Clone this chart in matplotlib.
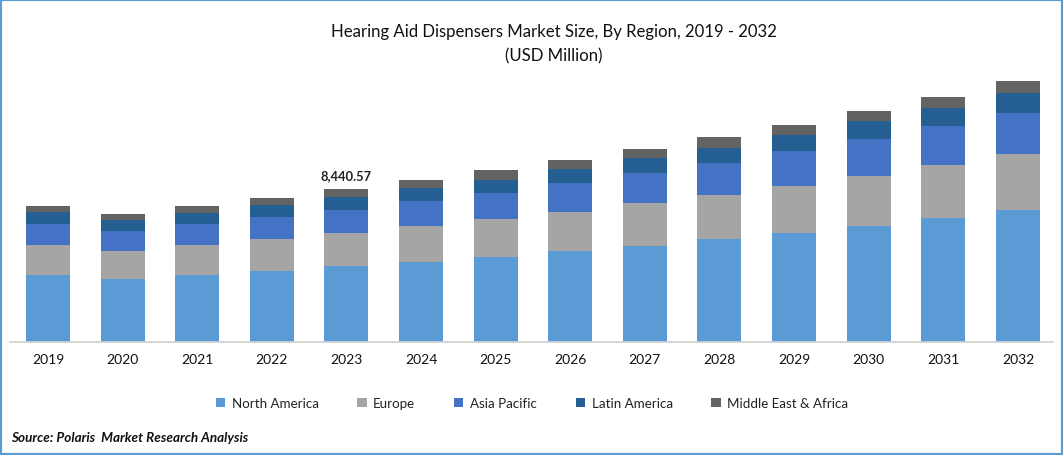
import matplotlib
matplotlib.use('Agg')
import numpy as np
import matplotlib.pyplot as plt
from matplotlib.patches import Rectangle

plt.rcParams['font.family'] = ['Lato', 'DejaVu Sans']

# values (USD Million)
years = ['2019', '2020', '2021', '2022', '2023', '2024', '2025', '2026', '2027', '2028', '2029', '2030', '2031', '2032']
north_america = [3696, 3476, 3696, 3917, 4193, 4414, 4689, 5020, 5296, 5683, 6014, 6400, 6841, 7282]
europe = [1655, 1545, 1655, 1765, 1821, 1986, 2096, 2152, 2372, 2427, 2593, 2759, 2924, 3090]
asia_pacific = [1159, 1103, 1159, 1214, 1269, 1379, 1434, 1600, 1655, 1765, 1931, 2041, 2152, 2262]
latin_america = [662, 607, 607, 662, 717, 717, 717, 772, 828, 828, 883, 993, 993, 1103]
middle_east_africa = [331, 331, 386, 386, 441, 441, 552, 497, 497, 607, 552, 552, 607, 662]
series = ['North America', 'Europe', 'Asia Pacific', 'Latin America', 'Middle East & Africa']
colors = ['#5b9bd5', '#a5a5a5', '#4472c4', '#255e91', '#636363']

W, H = 1063, 456
fig = plt.figure(figsize=(W / 100, H / 100), dpi=100)
ax = fig.add_axes([10 / W, (H - 343) / H, (1053 - 10) / W, 272 / H])

x = np.arange(len(years))
bottom = np.zeros(len(years))
for name, vals, c in zip(series, [north_america, europe, asia_pacific, latin_america, middle_east_africa], colors):
    ax.bar(x, vals, width=0.59, bottom=bottom, color=c, label=name)
    bottom += np.array(vals)

ax.set_xlim(-0.509, 13.47)
ax.set_ylim(0, 15006)
ax.set_xticks(x)
ax.set_xticklabels(years, fontsize=10, color='#111111')
ax.tick_params(axis='x', length=0, pad=8)
ax.set_yticks([])
for s in ['top', 'left', 'right']:
    ax.spines[s].set_visible(False)
ax.spines['bottom'].set_color('#d0d0d0')
ax.spines['bottom'].set_linewidth(1.2)

ax.text(4, bottom[4] + 430, '8,440.57', ha='center', va='bottom', fontsize=9.3, fontweight='bold', color='#222222')

fig.text(554 / W, 1 - 32 / H, 'Hearing Aid Dispensers Market Size, By Region, 2019 - 2032', ha='center', va='center', fontsize=12.1, color='#111111')
fig.text(554 / W, 1 - 56 / H, '(USD Million)', ha='center', va='center', fontsize=12.1, color='#111111')

fig.legend(loc='center', bbox_to_anchor=(532 / W, 1 - 404 / H), ncol=5, frameon=False, fontsize=9.6,
           handlelength=0.7, handleheight=0.7, handletextpad=0.5, columnspacing=2.9, labelcolor='#222222')

fig.text(11 / W, 1 - 438 / H, 'Source: Polaris  Market Research Analysis', ha='left', va='center', fontsize=9.75,
         fontweight='bold', fontstyle='italic', color='#111111')

# blue frame around the picture
fig.patches.append(Rectangle((0, 0), 1, 1, transform=fig.transFigure, fill=False, edgecolor='#5b9bd5', linewidth=3))

fig.savefig('out.png', dpi=100)
